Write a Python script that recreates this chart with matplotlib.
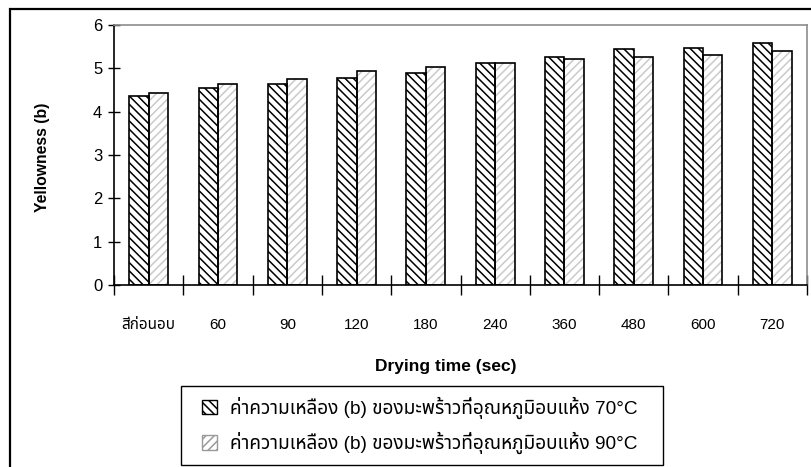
import matplotlib
matplotlib.use("Agg")
import matplotlib.pyplot as plt
from matplotlib import font_manager
from matplotlib.patches import Rectangle, Patch
import numpy as np


def find_thai_family():
    """Return the name of an installed family that covers Thai script."""
    preferred = ["Noto Sans Thai", "Noto Sans Thai UI", "Loma", "Garuda",
                 "Tahoma", "Norasi", "Kinnari", "Waree", "Umpush", "Sawasdee",
                 "Tlwg Typo", "Noto Serif Thai"]
    names = {f.name for f in font_manager.fontManager.ttflist}
    for p in preferred:
        if p in names:
            return p
    try:
        from fontTools.ttLib import TTFont
        for f in font_manager.fontManager.ttflist:
            try:
                tt = TTFont(f.fname, fontNumber=0, lazy=True)
                cmap = tt.getBestCmap() or {}
                if 0x0E04 in cmap and 0x0E48 in cmap:
                    return f.name
            except Exception:
                continue
    except Exception:
        pass
    return None


thai = find_thai_family()
families = ["Liberation Sans"] + ([thai] if thai else []) + ["DejaVu Sans"]
plt.rcParams["font.family"] = families
plt.rcParams["hatch.linewidth"] = 1.1

# Data
categories = ["สีก่อนอบ", "60", "90", "120", "180", "240", "360", "480", "600", "720"]
yellow_70 = [4.37, 4.54, 4.65, 4.77, 4.89, 5.12, 5.27, 5.44, 5.48, 5.58]
yellow_90 = [4.43, 4.65, 4.76, 4.95, 5.02, 5.12, 5.21, 5.27, 5.31, 5.41]
label_70 = "ค่าความเหลือง (b) ของมะพร้าวที่อุณหภูมิอบแห้ง 70°C"
label_90 = "ค่าความเหลือง (b) ของมะพร้าวที่อุณหภูมิอบแห้ง 90°C"
y_ticks = [0, 1, 2, 3, 4, 5, 6]

W, H = 811, 467
fig = plt.figure(figsize=(W / 100, H / 100), dpi=100)
ax = fig.add_axes([114 / W, 1 - 285 / H, (807 - 114) / W, (285 - 25) / H])

x = np.arange(len(categories))
bw = 0.28

# 70°C series: dense black back-diagonal hatch
ax.bar(x - bw / 2, yellow_70, bw, facecolor="white", edgecolor="black",
       hatch="\\\\\\\\", linewidth=0, zorder=2)
ax.bar(x - bw / 2, yellow_70, bw, fill=False, edgecolor="black",
       linewidth=1.2, zorder=3)
# 90°C series: light grey forward-diagonal hatch
ax.bar(x + bw / 2, yellow_90, bw, facecolor="white", edgecolor="#cacaca",
       hatch="////", linewidth=0, zorder=2)
ax.bar(x + bw / 2, yellow_90, bw, fill=False, edgecolor="black",
       linewidth=1.2, zorder=3)

ax.set_xlim(-0.5, len(categories) - 0.5)
ax.set_ylim(0, 6)
ax.set_yticks(y_ticks)
ax.tick_params(axis="y", direction="inout", length=9, width=1, labelsize=12, pad=4)

ax.set_xticks(x)
ax.set_xticklabels(categories)
ax.tick_params(axis="x", which="major", length=0, labelsize=11, pad=24)
ax.set_xticks(np.arange(len(categories) + 1) - 0.5, minor=True)
ax.tick_params(axis="x", which="minor", direction="inout", length=14, width=1)

for side in ("left", "bottom"):
    ax.spines[side].set_color("black")
    ax.spines[side].set_linewidth(1.2)
for side in ("top", "right"):
    ax.spines[side].set_color("#8c8c8c")
    ax.spines[side].set_linewidth(1.2)

ax.set_xlabel("Drying time (sec)", fontsize=12.5, fontweight="bold")
ax.xaxis.set_label_coords((446 - 114) / (807 - 114), -(367 - 285) / (285 - 25))
ax.xaxis.label.set_va("center")
ax.set_ylabel("Yellowness (b)", fontsize=11.3, fontweight="bold")
ax.yaxis.set_label_coords(-(114 - 42) / (807 - 114), (285 - 157) / (285 - 25))
ax.yaxis.label.set_va("center")

# Legend entries, with the frame drawn separately
handles = [
    Patch(facecolor="white", edgecolor="black", hatch="\\\\\\\\", linewidth=1, label=label_70),
    Patch(facecolor="white", edgecolor="#9a9a9a", hatch="////", linewidth=1, label=label_90),
]
fig.legend(handles=handles, loc="center left",
           bbox_to_anchor=(202 / W, 1 - 425.5 / H),
           fontsize=13.7, frameon=False, handlelength=0.8, handleheight=0.8,
           handletextpad=0.65, labelspacing=0.7, borderpad=0, borderaxespad=0)
fig.patches.append(Rectangle((181 / W, 1 - 465 / H), (663 - 181) / W, (465 - 386) / H,
                             transform=fig.transFigure, fill=False,
                             edgecolor="black", linewidth=1.0))

# Outer chart frame (extends past the right and bottom edges)
fig.patches.append(Rectangle((10 / W, -0.05), 1.1, 1 - 9 / H + 0.05,
                             transform=fig.transFigure, fill=False,
                             edgecolor="black", linewidth=1.6))

fig.savefig("out.png", dpi=100)
